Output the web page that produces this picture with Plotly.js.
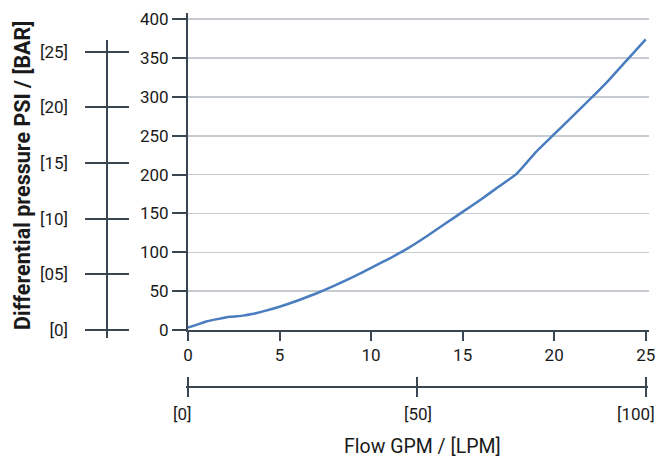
<!DOCTYPE html>
<html>
<head>
<meta charset="utf-8">
<script src="https://cdn.plot.ly/plotly-3.0.1.min.js"></script>
<style>html,body{margin:0;padding:0;background:#fff;}#chart{width:657px;height:457px;}</style>
</head>
<body>
<div id="chart"></div>
<script>
// Flow in GPM and differential pressure in PSI
const flowGPM = [0, 0.5, 1, 1.6, 2.3, 3.0, 3.5, 4.1, 5, 6, 7, 8, 9, 10, 11, 12, 13, 14, 15, 16, 17, 17.9, 18.3, 19, 20, 21, 22, 23, 24, 25];
const pressurePSI = [3, 7, 11, 14, 17, 18.5, 20.5, 24, 30, 38, 47, 57, 68, 80, 92, 105, 120, 136, 152, 168, 185, 200, 210, 229, 252, 275, 298, 322, 348, 374];

const gpmTicks = [0, 5, 10, 15, 20, 25];
const psiTicks = [0, 50, 100, 150, 200, 250, 300, 350, 400];
const barTicks = [0, 5, 10, 15, 20, 25];
const barTickText = ['[0]', '[05]', '[10]', '[15]', '[20]', '[25]'];
const lpmTicks = [0, 50, 100];
const lpmTickText = ['[0]', '[50]', '[100]'];

const FONT = 'Roboto, "Liberation Sans", Arial, sans-serif';
const AXIS = '#3a4652';
const GRID = '#c5cbd0';
const TEXT = '#1a1a1a';

const W = 569, H = 384, L = 80, B = 397;
const fx = px => (px - L) / W;
const fy = py => (B - py) / H;

const data = [
  {x: flowGPM, y: pressurePSI, type: 'scatter', mode: 'lines',
   line: {color: '#4a7dbf', width: 2.5, shape: 'spline', smoothing: 0.4},
   hoverinfo: 'skip', xaxis: 'x', yaxis: 'y'},
  // invisible helpers so the two scale subplots are created
  {x: barTicks.map(() => 0), y: barTicks, type: 'scatter', mode: 'markers', opacity: 0,
   marker: {size: 1}, hoverinfo: 'skip', xaxis: 'x3', yaxis: 'y2'},
  {x: lpmTicks, y: lpmTicks.map(() => 0), type: 'scatter', mode: 'markers', opacity: 0,
   marker: {size: 1}, hoverinfo: 'skip', xaxis: 'x2', yaxis: 'y3'}
];

// LPM labels are nudged so that [100] stays inside the picture, as in the reference
const lpmShift = [-5, 1, -10];
const lpmLabels = lpmTicks.map((v, i) => ({
  text: lpmTickText[i], xref: 'x2', yref: 'paper', x: v, y: fy(414),
  xanchor: 'center', yanchor: 'middle', xshift: lpmShift[i], showarrow: false,
  font: {family: FONT, size: 17, color: TEXT}
}));

const layout = {
  width: 657, height: 457,
  margin: {l: L, r: 8, t: 13, b: 60},
  paper_bgcolor: '#fff', plot_bgcolor: 'rgba(0,0,0,0)',
  showlegend: false,
  font: {family: FONT, size: 17, color: TEXT},
  xaxis: {
    domain: [fx(188), 1], range: [0, 25.18], anchor: 'y',
    tickvals: gpmTicks, ticks: 'outside', ticklen: 9, tickwidth: 2, tickcolor: AXIS,
    showline: true, linecolor: AXIS, linewidth: 2, showgrid: false, zeroline: false,
    tickfont: {family: FONT, size: 17, color: TEXT}
  },
  yaxis: {
    domain: [fy(330), 1], range: [0, 408], anchor: 'x',
    tickvals: psiTicks, ticks: 'outside', ticklen: 14, tickwidth: 2, tickcolor: AXIS,
    showline: true, linecolor: AXIS, linewidth: 2, showgrid: true, gridcolor: GRID, gridwidth: 1.5,
    zeroline: false, tickfont: {family: FONT, size: 17, color: TEXT}
  },
  // BAR scale on the left
  yaxis2: {
    domain: [fy(338), fy(40)], range: [-0.72, 26.05], anchor: 'x3',
    tickvals: barTicks, ticktext: barTickText, ticks: '', showline: false,
    showgrid: true, gridcolor: AXIS, gridwidth: 2, zeroline: false,
    ticklabelstandoff: 16, tickfont: {family: FONT, size: 17, color: TEXT}
  },
  xaxis3: {
    domain: [fx(85), fx(129)], range: [-1, 1], anchor: 'y2',
    tickvals: [0], showticklabels: false, ticks: '', showline: false,
    showgrid: true, gridcolor: AXIS, gridwidth: 2, zeroline: false
  },
  // LPM scale at the bottom
  xaxis2: {
    domain: [fx(185.7), fx(648.0)], range: [-0.5, 100.5], anchor: 'y3',
    tickvals: lpmTicks, showticklabels: false, ticks: '', showline: false,
    showgrid: true, gridcolor: AXIS, gridwidth: 2, zeroline: false
  },
  yaxis3: {
    domain: [fy(397), fy(377)], range: [-1, 1], anchor: 'x2',
    tickvals: [0], showticklabels: false, ticks: '', showline: false,
    showgrid: true, gridcolor: AXIS, gridwidth: 2, zeroline: false
  },
  annotations: [
    {text: '<b>Differential pressure PSI / [BAR]</b>', xref: 'paper', yref: 'paper',
     x: fx(22), y: fy(176), xanchor: 'center', yanchor: 'middle', textangle: -90,
     showarrow: false, font: {family: FONT, size: 21.5, color: TEXT}},
    {text: 'Flow GPM / [LPM]', xref: 'paper', yref: 'paper',
     x: fx(422.5), y: fy(446), xanchor: 'center', yanchor: 'middle',
     showarrow: false, font: {family: FONT, size: 19.5, color: TEXT}}
  ].concat(lpmLabels)
};

Plotly.newPlot('chart', data, layout, {staticPlot: true, displayModeBar: false});
</script>
</body>
</html>
